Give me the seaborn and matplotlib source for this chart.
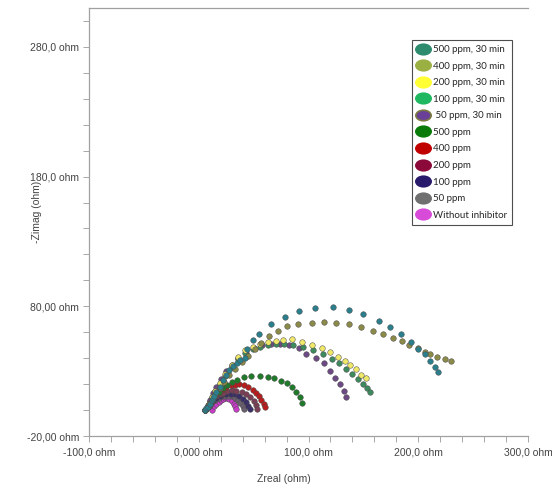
import numpy as np
import pandas as pd
import matplotlib
matplotlib.use("Agg")
import matplotlib.pyplot as plt
import seaborn as sns
from matplotlib.lines import Line2D
from matplotlib.path import Path
from matplotlib.transforms import Affine2D
from matplotlib.ticker import MultipleLocator, FixedLocator, FixedFormatter

# Nyquist data (Zreal, -Zimag in ohm)
labels = ["500 ppm, 30 min", "400 ppm, 30 min", "200 ppm, 30 min", "100 ppm, 30 min",
          " 50 ppm, 30 min", "500 ppm", "400 ppm", "200 ppm", "100 ppm", "50 ppm",
          "Without inhibitor"]

zr_500_30 = [6, 7, 8, 10, 12, 13, 14, 16, 19, 22, 25, 28, 31, 35, 38, 42, 44, 49, 55, 66, 79, 91,
             106, 122, 137, 150, 164, 174, 184, 193, 200, 206, 211, 215, 218]
zi_500_30 = [0, 1.3, 2.5, 5, 8, 9, 11, 14, 18, 23, 27, 31, 34, 36, 38.5, 40, 47, 54, 59, 66, 72,
             76, 79, 79.4, 77, 74, 69, 64, 59, 52.5, 47, 43, 38, 33, 29.5]

zr_400_30 = [6, 9, 12, 15, 19, 23, 28, 33, 39, 45, 51, 57, 64, 72, 80, 90, 103, 114, 125, 137,
             148, 159, 168, 177, 185, 192, 200, 206, 211, 217, 224, 230]
zi_400_30 = [0, 4, 8, 12, 17, 22, 27, 32, 37, 42, 47, 52, 57, 61, 65, 66.5, 67.5, 68, 67.5, 66,
             64, 61, 58.5, 55.5, 53, 50, 47.5, 45, 43, 41, 39, 37.5]

zr_200_30 = [6, 9, 12, 15, 19, 24, 30, 36, 42, 49, 56, 63, 70, 77, 85, 94, 103, 112, 120, 127,
             133, 138, 143, 148, 152]
zi_200_30 = [0, 5, 10, 15, 21, 28, 35, 41, 46, 49, 51, 52.5, 53.5, 54, 54.5, 52.5, 50.5, 48, 45,
             41, 37.5, 34.5, 32, 27, 24.5]

zr_100_30 = [6, 9, 12, 15, 19, 24, 30, 36, 42, 49, 56, 63, 70, 78, 86, 95, 104, 113, 121, 128,
             134, 140, 145, 150, 153, 156]
zi_100_30 = [0, 5, 10, 15, 20, 26, 33, 39, 44, 47, 49, 50.5, 51, 51, 50, 48.5, 46, 43, 39.5, 36,
             32, 28, 24, 20, 17, 14]

zr_50_30 = [6, 8, 10, 13, 16, 20, 25, 30, 36, 43, 50, 58, 66, 74, 82, 91, 98, 107, 114, 120,
            124, 129, 132, 134]
zi_50_30 = [0, 4, 8, 13, 18, 24, 30, 35, 40, 44, 47.5, 50, 51, 51, 50, 47.5, 43.5, 40, 36, 30,
            25, 20, 14.5, 10]

zr_500 = [6, 8, 11, 14, 18, 22, 26, 30, 35, 41, 48, 56, 63, 69, 75, 80, 85, 89, 92, 94]
zi_500 = [0, 3.5, 7, 10.5, 14, 17, 19.5, 21.5, 23, 25.5, 26.5, 26.5, 25.5, 24.5, 22.5, 20.5, 18,
          14, 10, 5.5]

zr_400 = [6, 8, 10, 13, 16, 19, 22, 25, 29, 33, 37, 41, 45, 49, 52, 55, 57, 59, 60.5]
zi_400 = [0, 3.5, 7, 10.5, 13, 15, 16.5, 17.5, 19, 19.7, 20, 19.3, 17.5, 15.5, 13, 10.5, 7.5, 5, 2.5]

zr_200 = [6, 8, 10, 13, 16, 19, 22, 26, 30, 34, 39, 43, 47, 50, 52, 53.5]
zi_200 = [0, 3, 6, 9, 11, 12.5, 13.5, 14.5, 15.2, 15, 14, 12.5, 10, 7, 4, 1]

zr_100 = [6, 8, 10, 13, 16, 19, 22, 25, 29, 33, 37, 40, 43, 45, 46.5]
zi_100 = [0, 2.5, 5, 7.5, 9.5, 11, 12, 12.5, 12.5, 12, 10.5, 8.5, 6, 3.5, 1]

zr_50 = [6, 8, 10, 12, 15, 18, 21, 24, 27, 30, 33, 36, 38, 40, 41]
zi_50 = [0, 2, 4, 6, 8, 9.5, 10.5, 11, 11, 10.5, 9.5, 7.5, 5.5, 3, 0.5]

zr_blank = [12, 14, 16, 18, 20, 22, 24, 26, 28, 30, 32, 33, 34]
zi_blank = [0, 3, 5, 6.5, 7.5, 8.5, 9, 9, 8.5, 7, 5, 3, 0.5]

zr_all = [zr_500_30, zr_400_30, zr_200_30, zr_100_30, zr_50_30, zr_500, zr_400, zr_200, zr_100,
          zr_50, zr_blank]
zi_all = [zi_500_30, zi_400_30, zi_200_30, zi_100_30, zi_50_30, zi_500, zi_400, zi_200, zi_100,
          zi_50, zi_blank]

dot_colors = ["#2b7f8c", "#8c8a48", "#f0e868", "#3d8a5e", "#6e4a85", "#1f7a2a", "#b81c1c",
              "#7a3f55", "#3a2f68", "#6a6070", "#c83cc8"]
legend_colors = ["#2e8b6e", "#9bb043", "#ffff33", "#1fb860", "#6a3f98", "#0a7a0a", "#c00000",
                 "#8b0a3a", "#2a1a6b", "#707070", "#d84ad8"]

rows = []
for lab, xs, ys in zip(labels, zr_all, zi_all):
    for x, y in zip(xs, ys):
        rows.append((lab, x, y))
df = pd.DataFrame(rows, columns=["series", "Zreal", "Zimag"])

sns.set_style("white")
plt.rcParams["font.family"] = ["Liberation Sans", "DejaVu Sans"]

fig = plt.figure(figsize=(5.52, 4.9), dpi=100)
ax = fig.add_axes([89 / 552, 1 - 436 / 490, 439 / 552, 428 / 490])

# small arcs first, 30 min series on top
for lab, col in list(zip(labels, dot_colors))[::-1]:
    sns.scatterplot(data=df[df["series"] == lab], x="Zreal", y="Zimag", color=col, s=16,
                    edgecolor="#4a4a4a", linewidth=0.35, ax=ax, legend=False, zorder=3)

ax.set_xlim(-100, 300)
ax.set_ylim(-20, 310)

ax.xaxis.set_major_locator(FixedLocator([-100, 0, 100, 200, 300]))
ax.xaxis.set_major_formatter(FixedFormatter(["-100,0 ohm", "0,000 ohm", "100,0 ohm",
                                             "200,0 ohm", "300,0 ohm"]))
ax.xaxis.set_minor_locator(MultipleLocator(20))
ax.yaxis.set_major_locator(FixedLocator([-20, 80, 180, 280]))
ax.yaxis.set_major_formatter(FixedFormatter(["-20,00 ohm", "80,00 ohm", "180,0 ohm",
                                             "280,0 ohm"]))
ax.yaxis.set_minor_locator(FixedLocator(list(range(0, 320, 20))))

ax.tick_params(which="both", direction="out", length=4, width=0.6, color="#9a9a9a",
               labelsize=7.5, labelcolor="#444444", bottom=True, left=True, pad=3)
ax.tick_params(axis="x", which="both", pad=4)

for side in ["left", "bottom", "top"]:
    ax.spines[side].set_color("#a0a0a0")
    ax.spines[side].set_linewidth(0.9)
ax.spines["right"].set_visible(False)

ax.set_xlabel("Zreal (ohm)", fontsize=7.5, color="#444444")
ax.set_ylabel("-Zimag (ohm)", fontsize=7.5, color="#444444")
ax.xaxis.set_label_coords(0.444, -0.100)
ax.yaxis.set_label_coords(-0.118, 0.523)
ax.xaxis.label.set_va("center")
ax.yaxis.label.set_va("center")

ell = Path.unit_circle().transformed(Affine2D().scale(1.45, 1.0))
handles = []
for lab, col in zip(labels, legend_colors):
    ec = "#7a7a40" if lab.strip().startswith("50 ppm, 30") else col
    handles.append(Line2D([], [], linestyle="none", marker=ell, markersize=11,
                          markerfacecolor=col, markeredgecolor=ec, markeredgewidth=1.2))
leg = ax.legend(handles, labels, loc="upper left", bbox_to_anchor=(0.736, 0.925),
                borderaxespad=0, frameon=True, fancybox=False,
                handlelength=1.3, handletextpad=0.35, labelspacing=0.78,
                borderpad=0.5, prop={"family": ["Lato", "DejaVu Sans"], "size": 7})
leg.get_frame().set_edgecolor("#222222")
leg.get_frame().set_linewidth(0.8)

fig.savefig("out.png", dpi=100)
